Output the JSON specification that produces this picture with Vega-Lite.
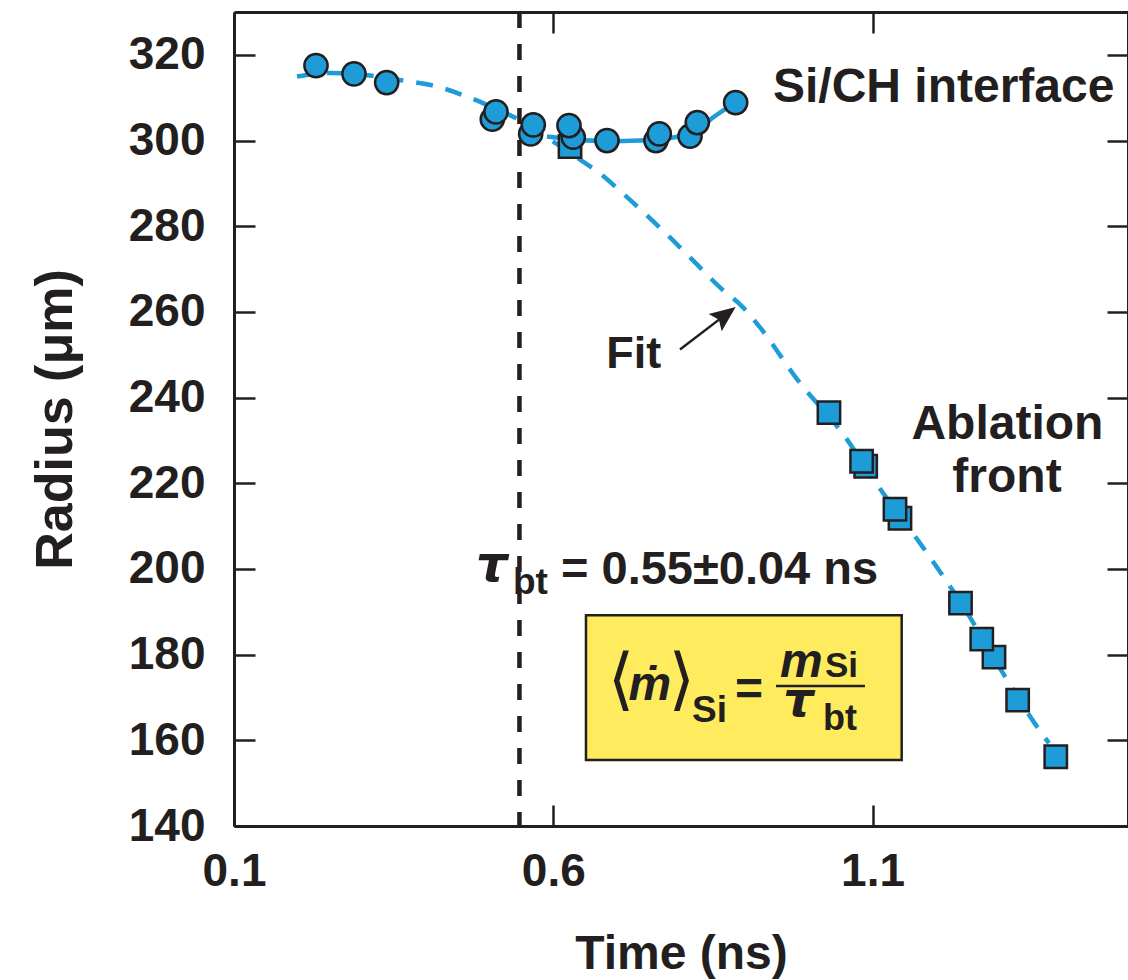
{
  "$schema": "https://vega.github.io/schema/vega-lite/v6.json",
  "width": 894,
  "height": 814,
  "autosize": "none",
  "padding": {"left": 234, "top": 12, "right": 0, "bottom": 154},
  "background": "white",
  "config": {
    "view": {"stroke": null},
    "font": "Liberation Sans"
  },
  "datasets": {
    "fit": [
      {"t": 0.1987, "r": 314.93}, {"t": 0.2503, "r": 315.79}, {"t": 0.3130, "r": 315.16},
      {"t": 0.3646, "r": 313.99}, {"t": 0.4116, "r": 312.83}, {"t": 0.4648, "r": 310.26},
      {"t": 0.5055, "r": 307.70}, {"t": 0.5431, "r": 305.13}, {"t": 0.5901, "r": 300.70},
      {"t": 0.6371, "r": 296.03}, {"t": 0.6731, "r": 292.30}, {"t": 0.7091, "r": 287.64},
      {"t": 0.7467, "r": 282.51}, {"t": 0.7827, "r": 277.38}, {"t": 0.8188, "r": 272.01},
      {"t": 0.8610, "r": 265.71}, {"t": 0.8971, "r": 261.05}, {"t": 0.9237, "r": 256.38},
      {"t": 0.9832, "r": 244.02}, {"t": 1.0552, "r": 231.20}, {"t": 1.1100, "r": 219.07},
      {"t": 1.1687, "r": 207.17}, {"t": 1.2008, "r": 200.41}, {"t": 1.2456, "r": 190.38},
      {"t": 1.3042, "r": 175.69}, {"t": 1.3590, "r": 162.86}, {"t": 1.3762, "r": 159.36}
    ],
    "ifit": [
      {"t": 0.5901, "r": 300.93}, {"t": 0.6340, "r": 300.23}, {"t": 0.6841, "r": 299.88},
      {"t": 0.7358, "r": 300.0}, {"t": 0.7874, "r": 300.70}, {"t": 0.8297, "r": 302.80},
      {"t": 0.8501, "r": 305.36}, {"t": 0.8856, "r": 308.86}
    ],
    "interface": [
      {"t": 0.2284, "r": 317.49}, {"t": 0.2879, "r": 315.56}, {"t": 0.3391, "r": 313.53},
      {"t": 0.5045, "r": 304.97}, {"t": 0.5103, "r": 306.69}, {"t": 0.5646, "r": 301.56},
      {"t": 0.5687, "r": 303.66}, {"t": 0.6313, "r": 300.77}, {"t": 0.6246, "r": 303.50},
      {"t": 0.6841, "r": 300.0}, {"t": 0.7608, "r": 300.0}, {"t": 0.7660, "r": 301.56},
      {"t": 0.8141, "r": 301.00}, {"t": 0.8255, "r": 304.20}, {"t": 0.8856, "r": 308.86}
    ],
    "ablation": [
      {"t": 0.6262, "r": 298.60}, {"t": 1.0317, "r": 236.49}, {"t": 1.0892, "r": 223.97},
      {"t": 1.0828, "r": 225.13}, {"t": 1.1429, "r": 211.84}, {"t": 1.1351, "r": 213.94},
      {"t": 1.2377, "r": 192.01}, {"t": 1.2901, "r": 179.42}, {"t": 1.2710, "r": 183.62},
      {"t": 1.3272, "r": 169.39}, {"t": 1.3869, "r": 156.17}
    ]
  },
  "resolve": {"axis": {"x": "independent", "y": "independent"}},
  "layer": [
    {
      "data": {"name": "fit"},
      "mark": {"type": "point", "opacity": 0},
      "encoding": {
        "x": {"field": "t", "type": "quantitative", "scale": {"domain": [0.1, 1.5], "nice": false, "zero": false},
          "axis": {"orient": "top", "values": [0.1, 0.6, 1.1], "labels": false, "title": null, "grid": false,
            "tickSize": -21, "tickWidth": 2.5, "tickColor": "#231F20", "domainColor": "#231F20", "domainWidth": 3}},
        "y": {"field": "r", "type": "quantitative", "scale": {"domain": [140, 330], "nice": false, "zero": false},
          "axis": {"orient": "right", "values": [140, 160, 180, 200, 220, 240, 260, 280, 300, 320], "labels": false, "title": null, "grid": false,
            "tickSize": -21, "tickWidth": 2.5, "tickColor": "#231F20", "domainColor": "#231F20", "domainWidth": 3}}
      }
    },
    {
      "data": {"values": [{}]},
      "layer": [
        {
          "mark": {"type": "rect", "fill": "#FFEC5E", "stroke": "#231F20", "strokeWidth": 2.5},
          "encoding": {
            "x": {"datum": 0.6512, "type": "quantitative", "axis": null},
            "x2": {"datum": 1.1456},
            "y": {"datum": 189.21, "type": "quantitative", "axis": null},
            "y2": {"datum": 155.39}
          }
        },
        {
          "mark": {"type": "rule", "stroke": "#231F20", "strokeWidth": 4.5, "strokeDash": [16, 16]},
          "encoding": {"x": {"datum": 0.547, "type": "quantitative", "axis": null}}
        }
      ]
    },
    {
      "data": {"name": "fit"},
      "mark": {"type": "line", "stroke": "#1E9CD7", "strokeWidth": 4.5, "strokeDash": [17, 13], "interpolate": "monotone"},
      "encoding": {
        "x": {"field": "t", "type": "quantitative", "scale": {"domain": [0.1, 1.5], "nice": false, "zero": false},
          "axis": {"orient": "bottom", "values": [0.1, 0.6, 1.1], "format": ".1f", "grid": false,
            "tickSize": -21, "tickWidth": 2.5, "tickColor": "#231F20", "domainColor": "#231F20", "domainWidth": 3,
            "labelFont": "Liberation Sans", "labelFontSize": 46, "labelFontWeight": "bold", "labelColor": "#231F20",
            "labelPadding": 44, "labelFlush": false,
            "title": "Time (ns)", "titleFont": "Liberation Sans", "titleFontSize": 48, "titleFontWeight": "bold", "titleColor": "#231F20", "titlePadding": 36}},
        "y": {"field": "r", "type": "quantitative", "scale": {"domain": [140, 330], "nice": false, "zero": false},
          "axis": {"orient": "left", "values": [140, 160, 180, 200, 220, 240, 260, 280, 300, 320], "grid": false,
            "tickSize": -21, "tickWidth": 2.5, "tickColor": "#231F20", "domainColor": "#231F20", "domainWidth": 3,
            "labelFont": "Liberation Sans", "labelFontSize": 46, "labelFontWeight": "bold", "labelColor": "#231F20",
            "labelPadding": 50, "labelFlush": false,
            "title": "Radius (μm)", "titleFont": "Liberation Sans", "titleFontSize": 52, "titleFontWeight": "bold", "titleColor": "#231F20", "titlePadding": 46}}
      }
    },
    {
      "data": {"name": "ifit"},
      "mark": {"type": "line", "stroke": "#1E9CD7", "strokeWidth": 4.5, "interpolate": "monotone"},
      "encoding": {
        "x": {"field": "t", "type": "quantitative", "axis": null},
        "y": {"field": "r", "type": "quantitative", "axis": null}
      }
    },
    {
      "data": {"name": "ablation"},
      "mark": {"type": "point", "shape": "square", "filled": true, "size": 500, "fill": "#1E9CD7", "stroke": "#231F20", "strokeWidth": 2.5, "opacity": 1},
      "encoding": {
        "x": {"field": "t", "type": "quantitative", "axis": null},
        "y": {"field": "r", "type": "quantitative", "axis": null}
      }
    },
    {
      "data": {"name": "interface"},
      "mark": {"type": "circle", "size": 540, "fill": "#1E9CD7", "stroke": "#231F20", "strokeWidth": 2.5, "opacity": 1},
      "encoding": {
        "x": {"field": "t", "type": "quantitative", "axis": null},
        "y": {"field": "r", "type": "quantitative", "axis": null}
      }
    },
    {
      "data": {"values": [{}]},
      "layer": [
        {"mark": {"type": "text", "text": "Si/CH interface", "align": "left", "baseline": "alphabetic", "font": "Liberation Sans", "fontSize": 48, "fontWeight": "bold", "fill": "#231F20"},
         "encoding": {"x": {"datum": 0.9440, "type": "quantitative", "axis": null}, "y": {"datum": 308.93, "type": "quantitative", "axis": null}}},
        {"mark": {"type": "text", "text": "Ablation", "align": "center", "baseline": "alphabetic", "font": "Liberation Sans", "fontSize": 48, "fontWeight": "bold", "fill": "#231F20"},
         "encoding": {"x": {"datum": 1.3112, "type": "quantitative", "axis": null}, "y": {"datum": 230.26, "type": "quantitative", "axis": null}}},
        {"mark": {"type": "text", "text": "front", "align": "center", "baseline": "alphabetic", "font": "Liberation Sans", "fontSize": 48, "fontWeight": "bold", "fill": "#231F20"},
         "encoding": {"x": {"datum": 1.3105, "type": "quantitative", "axis": null}, "y": {"datum": 217.9, "type": "quantitative", "axis": null}}},
        {"mark": {"type": "text", "text": "Fit", "align": "center", "baseline": "alphabetic", "font": "Liberation Sans", "fontSize": 45, "fontWeight": "bold", "fill": "#231F20"},
         "encoding": {"x": {"datum": 0.7259, "type": "quantitative", "axis": null}, "y": {"datum": 246.82, "type": "quantitative", "axis": null}}},
        {"mark": {"type": "rule", "stroke": "#231F20", "strokeWidth": 2.5},
         "encoding": {"x": {"datum": 0.7984, "type": "quantitative", "axis": null}, "y": {"datum": 251.25, "type": "quantitative", "axis": null},
                      "x2": {"datum": 0.8642}, "y2": {"datum": 258.72}}},
        {"mark": {"type": "point", "shape": "M0,0L0.8,1.9L0,1.55L-0.8,1.9Z", "filled": true, "size": 729, "angle": 53, "fill": "#231F20", "strokeWidth": 0, "opacity": 1},
         "encoding": {"x": {"datum": 0.8856, "type": "quantitative", "axis": null}, "y": {"datum": 261.12, "type": "quantitative", "axis": null}}},
        {"mark": {"type": "text", "text": "τ", "align": "left", "baseline": "alphabetic", "font": "DejaVu Sans", "fontSize": 50, "fontWeight": "bold", "fontStyle": "italic", "fill": "#231F20"},
         "encoding": {"x": {"datum": 0.4790, "type": "quantitative", "axis": null}, "y": {"datum": 197.14, "type": "quantitative", "axis": null}}},
        {"mark": {"type": "text", "text": "bt", "align": "left", "baseline": "alphabetic", "font": "Liberation Sans", "fontSize": 37, "fontWeight": "bold", "fill": "#231F20"},
         "encoding": {"x": {"datum": 0.5369, "type": "quantitative", "axis": null}, "y": {"datum": 194.11, "type": "quantitative", "axis": null}}},
        {"mark": {"type": "text", "text": "= 0.55±0.04 ns", "align": "left", "baseline": "alphabetic", "font": "Liberation Sans", "fontSize": 47, "fontWeight": "bold", "fill": "#231F20"},
         "encoding": {"x": {"datum": 0.6121, "type": "quantitative", "axis": null}, "y": {"datum": 196.44, "type": "quantitative", "axis": null}}},
        {"mark": {"type": "text", "text": "⟨", "align": "center", "baseline": "middle", "font": "DejaVu Sans", "fontSize": 68, "fontWeight": "normal", "fill": "#231F20"},
         "encoding": {"x": {"datum": 0.7060, "type": "quantitative", "axis": null}, "y": {"datum": 173.70, "type": "quantitative", "axis": null}}},
        {"mark": {"type": "text", "text": "ṁ", "align": "center", "baseline": "alphabetic", "font": "Liberation Sans", "fontSize": 48, "fontWeight": "bold", "fontStyle": "italic", "fill": "#231F20"},
         "encoding": {"x": {"datum": 0.7514, "type": "quantitative", "axis": null}, "y": {"datum": 169.39, "type": "quantitative", "axis": null}}},
        {"mark": {"type": "text", "text": "⟩", "align": "center", "baseline": "middle", "font": "DejaVu Sans", "fontSize": 68, "fontWeight": "normal", "fill": "#231F20"},
         "encoding": {"x": {"datum": 0.8011, "type": "quantitative", "axis": null}, "y": {"datum": 173.70, "type": "quantitative", "axis": null}}},
        {"mark": {"type": "text", "text": "Si", "align": "left", "baseline": "alphabetic", "font": "Liberation Sans", "fontSize": 37, "fontWeight": "bold", "fill": "#231F20"},
         "encoding": {"x": {"datum": 0.8172, "type": "quantitative", "axis": null}, "y": {"datum": 164.33, "type": "quantitative", "axis": null}}},
        {"mark": {"type": "text", "text": "=", "align": "center", "baseline": "alphabetic", "font": "Liberation Sans", "fontSize": 48, "fontWeight": "bold", "fill": "#231F20"},
         "encoding": {"x": {"datum": 0.9065, "type": "quantitative", "axis": null}, "y": {"datum": 168.34, "type": "quantitative", "axis": null}}},
        {"mark": {"type": "rule", "stroke": "#231F20", "strokeWidth": 2.5},
         "encoding": {"x": {"datum": 0.9487, "type": "quantitative", "axis": null}, "x2": {"datum": 1.0881},
                      "y": {"datum": 172.65, "type": "quantitative", "axis": null}}},
        {"mark": {"type": "text", "text": "m", "align": "left", "baseline": "alphabetic", "font": "Liberation Sans", "fontSize": 48, "fontWeight": "bold", "fontStyle": "italic", "fill": "#231F20"},
         "encoding": {"x": {"datum": 0.9550, "type": "quantitative", "axis": null}, "y": {"datum": 174.75, "type": "quantitative", "axis": null}}},
        {"mark": {"type": "text", "text": "Si", "align": "left", "baseline": "alphabetic", "font": "Liberation Sans", "fontSize": 35, "fontWeight": "bold", "fill": "#231F20"},
         "encoding": {"x": {"datum": 1.0255, "type": "quantitative", "axis": null}, "y": {"datum": 174.75, "type": "quantitative", "axis": null}}},
        {"mark": {"type": "text", "text": "τ", "align": "left", "baseline": "alphabetic", "font": "DejaVu Sans", "fontSize": 48, "fontWeight": "bold", "fontStyle": "italic", "fill": "#231F20"},
         "encoding": {"x": {"datum": 0.9600, "type": "quantitative", "axis": null}, "y": {"datum": 165.6, "type": "quantitative", "axis": null}}},
        {"mark": {"type": "text", "text": "bt", "align": "left", "baseline": "alphabetic", "font": "Liberation Sans", "fontSize": 36, "fontWeight": "bold", "fill": "#231F20"},
         "encoding": {"x": {"datum": 1.0223, "type": "quantitative", "axis": null}, "y": {"datum": 162.39, "type": "quantitative", "axis": null}}}
      ]
    }
  ]
}
